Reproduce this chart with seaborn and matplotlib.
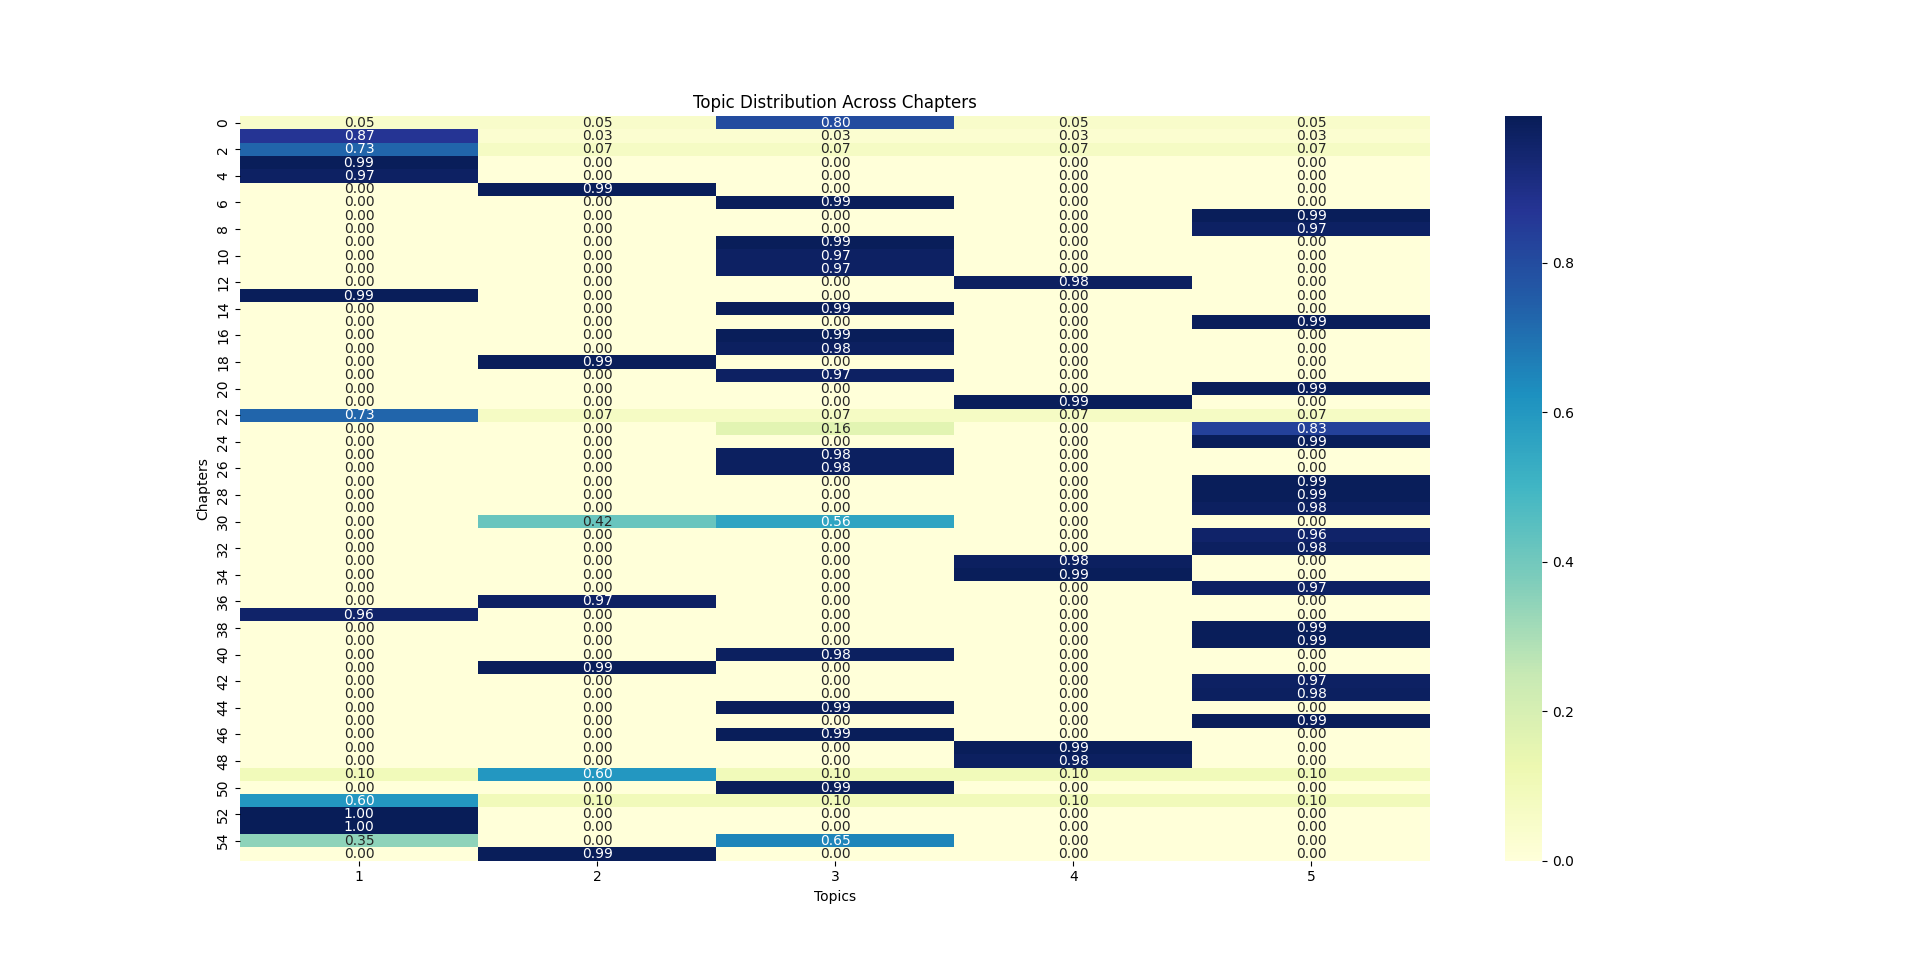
import numpy as np
import pandas as pd
import matplotlib
matplotlib.use('Agg')
from matplotlib import pyplot as plt
import seaborn as sns

# topic share of each chapter (rows = chapters 0..55, cols = topics 1..5)
# the "1.00" cells are just under 1 (colour bar stops short of 1.0)
topics = [1, 2, 3, 4, 5]
topic_1 = [0.05, 0.87, 0.73, 0.99, 0.97, 0.00, 0.00, 0.00, 0.00, 0.00,
           0.00, 0.00, 0.00, 0.99, 0.00, 0.00, 0.00, 0.00, 0.00, 0.00,
           0.00, 0.00, 0.73, 0.00, 0.00, 0.00, 0.00, 0.00, 0.00, 0.00,
           0.00, 0.00, 0.00, 0.00, 0.00, 0.00, 0.00, 0.96, 0.00, 0.00,
           0.00, 0.00, 0.00, 0.00, 0.00, 0.00, 0.00, 0.00, 0.00, 0.10,
           0.00, 0.60, 0.996, 0.996, 0.35, 0.00]
topic_2 = [0.05, 0.03, 0.07, 0.00, 0.00, 0.99, 0.00, 0.00, 0.00, 0.00,
           0.00, 0.00, 0.00, 0.00, 0.00, 0.00, 0.00, 0.00, 0.99, 0.00,
           0.00, 0.00, 0.07, 0.00, 0.00, 0.00, 0.00, 0.00, 0.00, 0.00,
           0.42, 0.00, 0.00, 0.00, 0.00, 0.00, 0.97, 0.00, 0.00, 0.00,
           0.00, 0.99, 0.00, 0.00, 0.00, 0.00, 0.00, 0.00, 0.00, 0.60,
           0.00, 0.10, 0.00, 0.00, 0.00, 0.99]
topic_3 = [0.80, 0.03, 0.07, 0.00, 0.00, 0.00, 0.99, 0.00, 0.00, 0.99,
           0.97, 0.97, 0.00, 0.00, 0.99, 0.00, 0.99, 0.98, 0.00, 0.97,
           0.00, 0.00, 0.07, 0.16, 0.00, 0.98, 0.98, 0.00, 0.00, 0.00,
           0.56, 0.00, 0.00, 0.00, 0.00, 0.00, 0.00, 0.00, 0.00, 0.00,
           0.98, 0.00, 0.00, 0.00, 0.99, 0.00, 0.99, 0.00, 0.00, 0.10,
           0.99, 0.10, 0.00, 0.00, 0.65, 0.00]
topic_4 = [0.05, 0.03, 0.07, 0.00, 0.00, 0.00, 0.00, 0.00, 0.00, 0.00,
           0.00, 0.00, 0.98, 0.00, 0.00, 0.00, 0.00, 0.00, 0.00, 0.00,
           0.00, 0.99, 0.07, 0.00, 0.00, 0.00, 0.00, 0.00, 0.00, 0.00,
           0.00, 0.00, 0.00, 0.98, 0.99, 0.00, 0.00, 0.00, 0.00, 0.00,
           0.00, 0.00, 0.00, 0.00, 0.00, 0.00, 0.00, 0.99, 0.98, 0.10,
           0.00, 0.10, 0.00, 0.00, 0.00, 0.00]
topic_5 = [0.05, 0.03, 0.07, 0.00, 0.00, 0.00, 0.00, 0.99, 0.97, 0.00,
           0.00, 0.00, 0.00, 0.00, 0.00, 0.99, 0.00, 0.00, 0.00, 0.00,
           0.99, 0.00, 0.07, 0.83, 0.99, 0.00, 0.00, 0.99, 0.99, 0.98,
           0.00, 0.96, 0.98, 0.00, 0.00, 0.97, 0.00, 0.00, 0.99, 0.99,
           0.00, 0.00, 0.97, 0.98, 0.00, 0.99, 0.00, 0.00, 0.00, 0.10,
           0.00, 0.10, 0.00, 0.00, 0.00, 0.00]

df = pd.DataFrame({1: topic_1, 2: topic_2, 3: topic_3, 4: topic_4, 5: topic_5})
df.columns = topics

fig = plt.figure(figsize=(19.2, 9.67), dpi=100)
ax = fig.add_subplot(111)
sns.heatmap(df, annot=True, fmt='.2f', cmap='YlGnBu', ax=ax)
ax.set_title('Topic Distribution Across Chapters')
ax.set_xlabel('Topics')
ax.set_ylabel('Chapters')

plt.savefig('out.png', dpi=100)
